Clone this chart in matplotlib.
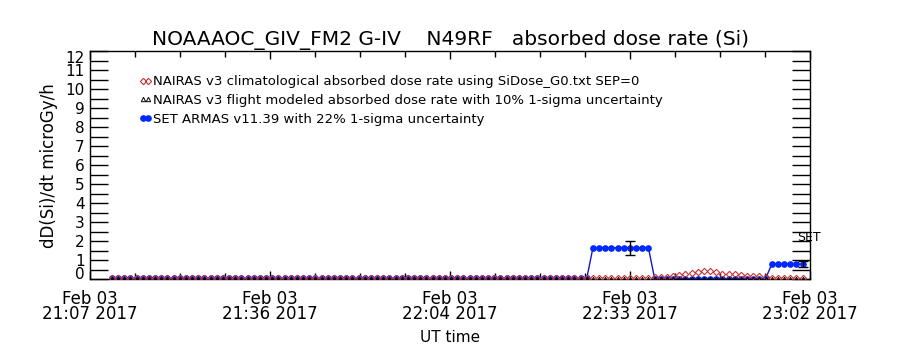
import numpy as np
import matplotlib
matplotlib.use('Agg')
import matplotlib.pyplot as plt

# time axis in minutes after 21:07 UT, one sample per ~minute
SAMPLE_START_MIN = 3.5
CADENCE_MIN = 0.985
X_TICKS = [0.0, 28.75, 57.5, 86.25, 115.0]
X_TICK_LABELS = ['Feb 03\n21:07 2017', 'Feb 03\n21:36 2017', 'Feb 03\n22:04 2017',
                 'Feb 03\n22:33 2017', 'Feb 03\n23:02 2017']

# NAIRAS v3 climatological dose rate (microGy/h)
clim_rate = [
    0.06, 0.06, 0.06, 0.06, 0.06, 0.06, 0.06, 0.06, 0.06, 0.06,
    0.06, 0.06, 0.06, 0.06, 0.06, 0.06, 0.06, 0.06, 0.06, 0.06,
    0.06, 0.06, 0.06, 0.06, 0.06, 0.06, 0.06, 0.06, 0.06, 0.06,
    0.06, 0.06, 0.06, 0.06, 0.06, 0.06, 0.06, 0.06, 0.06, 0.06,
    0.06, 0.06, 0.06, 0.06, 0.06, 0.06, 0.06, 0.06, 0.06, 0.06,
    0.06, 0.06, 0.06, 0.06, 0.06, 0.06, 0.06, 0.06, 0.06, 0.06,
    0.06, 0.06, 0.06, 0.06, 0.06, 0.06, 0.06, 0.06, 0.06, 0.06,
    0.06, 0.06, 0.06, 0.06, 0.06, 0.06, 0.06, 0.06, 0.06, 0.06,
    0.06, 0.06, 0.06, 0.06, 0.06, 0.06, 0.06, 0.06, 0.10, 0.10,
    0.13, 0.18, 0.22, 0.30, 0.33, 0.40, 0.43, 0.44, 0.38, 0.30,
    0.27, 0.27, 0.25, 0.20, 0.16, 0.16, 0.12, 0.06, 0.06, 0.06,
    0.06, 0.06, 0.06,
]

# NAIRAS v3 flight modeled dose rate
flight_rate = [
    0.04, 0.04, 0.04, 0.04, 0.04, 0.04, 0.04, 0.04, 0.04, 0.04,
    0.04, 0.04, 0.04, 0.04, 0.04, 0.04, 0.04, 0.04, 0.04, 0.04,
    0.04, 0.04, 0.04, 0.04, 0.04, 0.04, 0.04, 0.04, 0.04, 0.04,
    0.04, 0.04, 0.04, 0.04, 0.04, 0.04, 0.04, 0.04, 0.04, 0.04,
    0.04, 0.04, 0.04, 0.04, 0.04, 0.04, 0.04, 0.04, 0.04, 0.04,
    0.04, 0.04, 0.04, 0.04, 0.04, 0.04, 0.04, 0.04, 0.04, 0.04,
    0.04, 0.04, 0.04, 0.04, 0.04, 0.04, 0.04, 0.04, 0.04, 0.04,
    0.04, 0.04, 0.04, 0.04, 0.04, 0.04, 0.04, 0.04, 0.04, 0.04,
    0.04, 0.04, 0.04, 0.04, 0.04, 0.04, 0.04, 0.04, 0.04, 0.04,
    0.04, 0.04, 0.04, 0.04, 0.04, 0.04, 0.04, 0.04, 0.04, 0.04,
    0.04, 0.04, 0.04, 0.04, 0.04, 0.04, 0.04, 0.04, 0.04, 0.04,
    0.04, 0.04, 0.04,
]

# SET ARMAS measured dose rate
armas_rate = [
    0.05, 0.05, 0.05, 0.05, 0.05, 0.05, 0.05, 0.05, 0.05, 0.05,
    0.05, 0.05, 0.05, 0.05, 0.05, 0.05, 0.05, 0.05, 0.05, 0.05,
    0.05, 0.05, 0.05, 0.05, 0.05, 0.05, 0.05, 0.05, 0.05, 0.05,
    0.05, 0.05, 0.05, 0.05, 0.05, 0.05, 0.05, 0.05, 0.05, 0.05,
    0.05, 0.05, 0.05, 0.05, 0.05, 0.05, 0.05, 0.05, 0.05, 0.05,
    0.05, 0.05, 0.05, 0.05, 0.05, 0.05, 0.05, 0.05, 0.05, 0.05,
    0.05, 0.05, 0.05, 0.05, 0.05, 0.05, 0.05, 0.05, 0.05, 0.05,
    0.05, 0.05, 0.05, 0.05, 0.05, 0.05, 0.05, 0.05, 1.66, 1.66,
    1.66, 1.66, 1.66, 1.66, 1.66, 1.66, 1.66, 1.66, 0.04, 0.04,
    0.04, 0.04, 0.04, 0.04, 0.04, 0.04, 0.04, 0.04, 0.04, 0.04,
    0.04, 0.04, 0.04, 0.04, 0.04, 0.04, 0.04, 0.80, 0.80, 0.80,
    0.80, 0.80, 0.80,
]

# one 22% 1-sigma bar per elevated segment (sample indices)
ARMAS_ERR_IDX = [84, 112]
ARMAS_SIGMA = 0.22

t = SAMPLE_START_MIN + CADENCE_MIN * np.arange(len(armas_rate))
armas = np.array(armas_rate)

fig = plt.figure(figsize=(9, 3.5), dpi=100)
ax = fig.add_axes([0.1, 0.202, 0.8, 0.651])

ax.plot(t, armas, color='#1414c8', lw=1.0, marker='o', ms=3.8,
        mfc='#0028ff', mec='#0028ff',
        label='SET ARMAS v11.39 with 22% 1-sigma uncertainty', zorder=2)
ax.plot(t, clim_rate, ls='none', marker='D', ms=3.2, mfc='none',
        mec='#c83232', mew=0.8,
        label='NAIRAS v3 climatological absorbed dose rate using SiDose_G0.txt SEP=0',
        zorder=3)
ax.plot(t, flight_rate, ls='none', marker='^', ms=3.2, mfc='none',
        mec='black', mew=0.7,
        label='NAIRAS v3 flight modeled absorbed dose rate with 10% 1-sigma uncertainty',
        zorder=4)

err_t = t[ARMAS_ERR_IDX]
err_v = armas[ARMAS_ERR_IDX]
ax.errorbar(err_t, err_v, yerr=err_v * ARMAS_SIGMA, fmt='none', ecolor='black',
            elinewidth=1.0, capsize=3.5, capthick=1.0, zorder=5)

ax.text(113.0, 2.2, 'SET', fontsize=9, ha='left', va='center', clip_on=False)

ax.set_xlim(X_TICKS[0], X_TICKS[-1])
ax.set_ylim(0, 12)
ax.set_xticks(X_TICKS)
ax.set_xticklabels(X_TICK_LABELS, fontsize=12, linespacing=0.75)
ax.set_xticks(np.linspace(X_TICKS[0], X_TICKS[-1], 17), minor=True)
ax.set_yticks(np.arange(0, 13, 1))
ax.set_yticks(np.arange(0, 12.5, 0.5), minor=True)
ax.set_yticklabels([str(v) for v in range(13)], fontsize=11)

# keep the end labels inside the axis range
for lab in ax.get_yticklabels():
    if lab.get_text() == '0':
        lab.set_verticalalignment('baseline')
    elif lab.get_text() == '12':
        lab.set_verticalalignment('top')

ax.tick_params(axis='both', which='both', direction='in', top=True, right=True,
               color='black', width=1.0)
ax.tick_params(axis='y', which='both', length=13, pad=4)
ax.tick_params(axis='x', which='major', length=6, pad=8)
ax.tick_params(axis='x', which='minor', length=4)
ax.tick_params(axis='x', which='both', top=True, labeltop=False)
for sp in ax.spines.values():
    sp.set_linewidth(1.0)
    sp.set_color('black')

ax.set_xlabel('UT time', fontsize=11, labelpad=5)
ax.set_ylabel('dD(Si)/dt microGy/h', fontsize=12, labelpad=5)
ax.set_title('NOAAAOC_GIV_FM2 G-IV    N49RF   absorbed dose rate (Si)',
             fontsize=14.5, pad=5)

handles, labels = ax.get_legend_handles_labels()
order = [1, 2, 0]
ax.legend([handles[i] for i in order], [labels[i] for i in order],
          loc='upper left', bbox_to_anchor=(0.068, 0.896), frameon=False,
          fontsize=9.5, numpoints=2, handlelength=1.0, handletextpad=0.05,
          borderpad=0, borderaxespad=0, labelspacing=0.45)

fig.savefig('out.png', dpi=100, facecolor='white')
